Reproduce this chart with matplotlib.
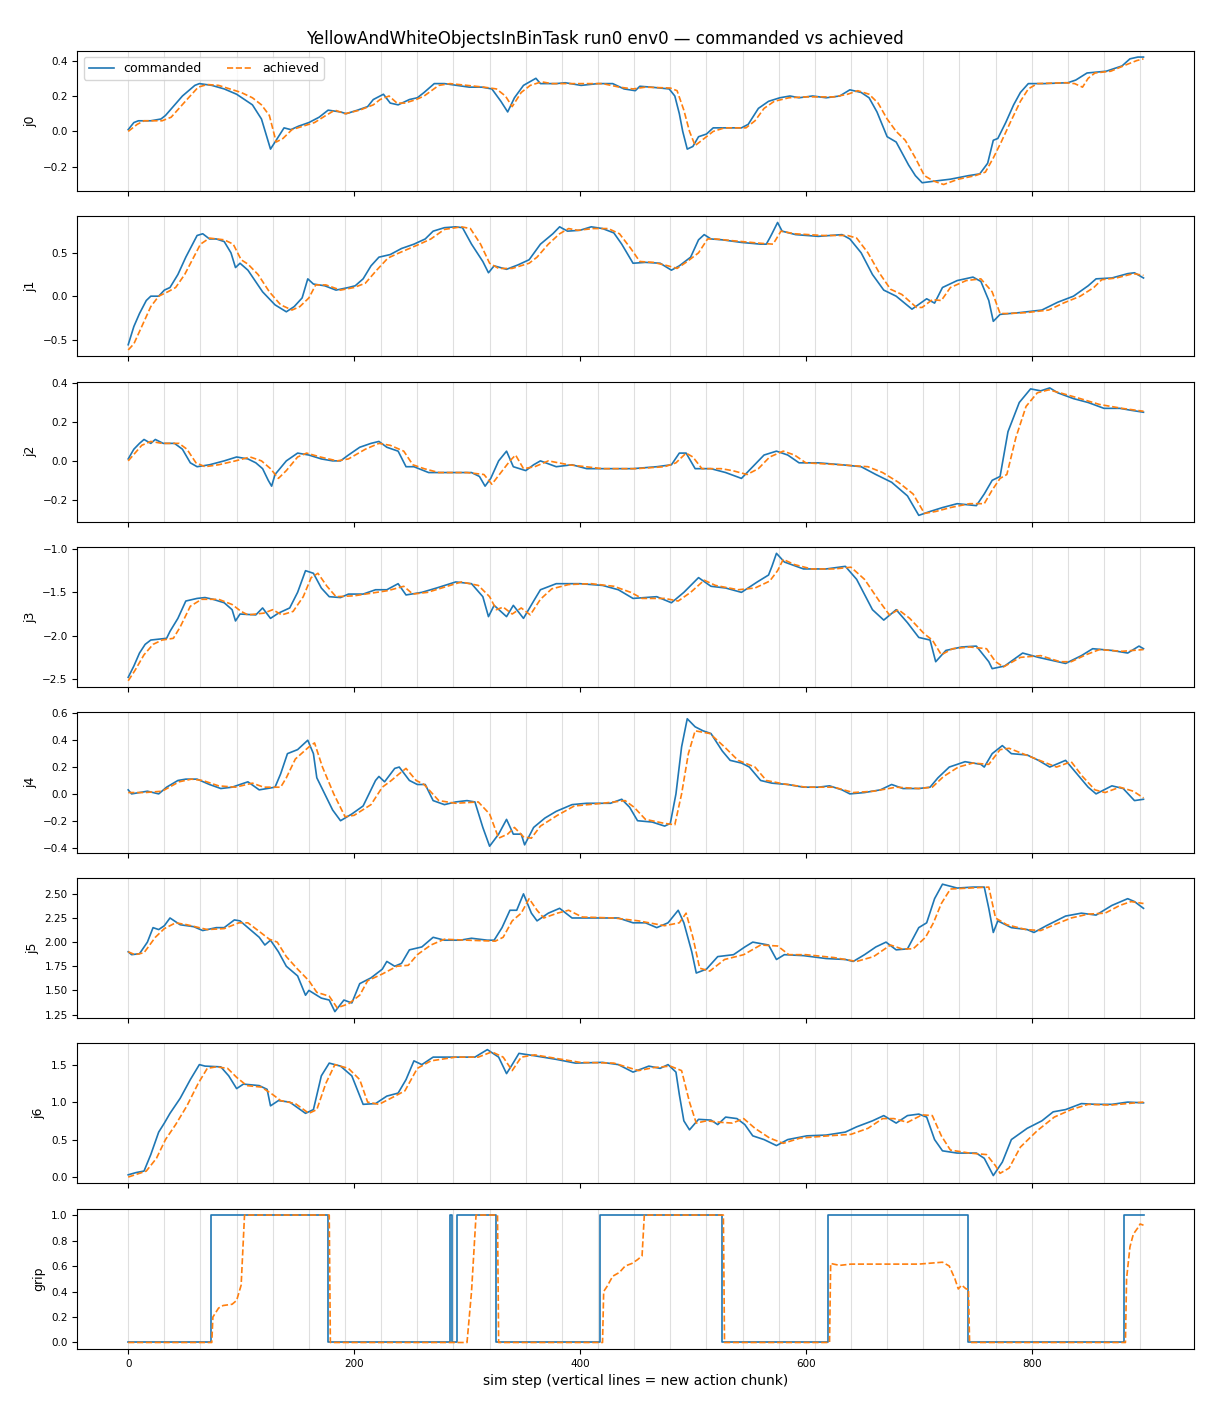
import numpy as np
import matplotlib
matplotlib.use("Agg")
import matplotlib.pyplot as plt

# ---------------------------------------------
# commanded vs achieved joint positions
# each series is a list of (sim step, value)
# ---------------------------------------------

joint_names = ['j0', 'j1', 'j2', 'j3', 'j4', 'j5', 'j6', 'grip']
chunk_starts = list(range(0, 900, 32))  # a new action chunk every 32 steps

j0_cmd = [(0, 0.01), (5, 0.05), (9, 0.06), (20, 0.06), (29, 0.07), (33, 0.09), (48, 0.2), (59, 0.26),
          (63, 0.27), (74, 0.26), (85, 0.24), (96, 0.21), (103, 0.18), (110, 0.15), (118, 0.07), (126, -0.1),
          (131, -0.05), (138, 0.02), (144, 0.01), (151, 0.03), (160, 0.05), (169, 0.08), (177, 0.12),
          (188, 0.11), (193, 0.10), (203, 0.12), (212, 0.14), (217, 0.18), (226, 0.21), (232, 0.16),
          (239, 0.15), (249, 0.18), (256, 0.19), (262, 0.22), (271, 0.27), (280, 0.27), (291, 0.26),
          (302, 0.25), (313, 0.25), (322, 0.24), (330, 0.17), (336, 0.11), (342, 0.19), (350, 0.26),
          (361, 0.30), (365, 0.27), (379, 0.27), (387, 0.275), (401, 0.26), (416, 0.27), (429, 0.27),
          (439, 0.24), (449, 0.23), (453, 0.255), (463, 0.25), (479, 0.24), (484, 0.20), (488, 0.1),
          (491, 0.0), (495, -0.1), (500, -0.085), (505, -0.03), (512, -0.015), (518, 0.02), (525, 0.02),
          (543, 0.02), (549, 0.04), (558, 0.13), (567, 0.17), (577, 0.19), (586, 0.2), (594, 0.19),
          (606, 0.2), (618, 0.19), (630, 0.2), (639, 0.235), (649, 0.22), (656, 0.19), (663, 0.11),
          (672, -0.03), (680, -0.06), (691, -0.19), (697, -0.25), (703, -0.29), (715, -0.28), (728, -0.27),
          (744, -0.25), (754, -0.24), (761, -0.18), (766, -0.05), (770, -0.04), (777, 0.05), (784, 0.15),
          (790, 0.22), (797, 0.27), (811, 0.27), (832, 0.275), (839, 0.29), (849, 0.33), (866, 0.34),
          (880, 0.37), (887, 0.41), (894, 0.42), (899, 0.42)]
j0_ach = [(0, 0.0), (8, 0.04), (14, 0.06), (30, 0.06), (38, 0.08), (52, 0.18), (62, 0.25), (70, 0.265),
          (80, 0.26), (90, 0.24), (100, 0.22), (110, 0.19), (118, 0.15), (125, 0.09), (131, -0.06),
          (137, -0.04), (145, 0.01), (155, 0.03), (165, 0.05), (175, 0.09), (183, 0.12), (192, 0.10),
          (205, 0.12), (217, 0.15), (223, 0.18), (231, 0.20), (238, 0.16), (245, 0.16), (255, 0.18),
          (262, 0.20), (275, 0.26), (285, 0.27), (300, 0.26), (315, 0.25), (326, 0.24), (334, 0.20),
          (340, 0.14), (348, 0.22), (356, 0.26), (366, 0.28), (375, 0.27), (395, 0.27), (420, 0.27),
          (435, 0.25), (447, 0.24), (458, 0.25), (480, 0.245), (486, 0.23), (492, 0.12), (497, 0.0),
          (502, -0.08), (508, -0.05), (518, 0.0), (528, 0.02), (547, 0.02), (555, 0.06), (563, 0.13),
          (572, 0.17), (585, 0.19), (600, 0.195), (625, 0.195), (637, 0.21), (646, 0.23), (656, 0.21),
          (664, 0.16), (672, 0.07), (680, 0.0), (688, -0.05), (697, -0.15), (705, -0.25), (713, -0.28),
          (722, -0.30), (735, -0.27), (750, -0.25), (759, -0.23), (766, -0.15), (773, -0.06), (781, 0.05),
          (790, 0.17), (797, 0.24), (805, 0.27), (830, 0.275), (838, 0.27), (845, 0.25), (850, 0.30),
          (856, 0.33), (870, 0.34), (885, 0.38), (893, 0.40), (899, 0.41)]

j1_cmd = [(0, -0.56), (5, -0.35), (10, -0.2), (16, -0.05), (20, 0.0), (27, 0.0), (32, 0.07), (37, 0.1),
          (44, 0.25), (51, 0.45), (57, 0.6), (61, 0.7), (66, 0.72), (72, 0.66), (78, 0.66), (85, 0.63),
          (91, 0.5), (95, 0.33), (99, 0.38), (106, 0.3), (119, 0.05), (130, -0.1), (140, -0.18),
          (147, -0.12), (154, -0.02), (159, 0.2), (164, 0.14), (174, 0.12), (184, 0.07), (195, 0.1),
          (201, 0.12), (208, 0.2), (215, 0.35), (222, 0.45), (232, 0.48), (242, 0.55), (253, 0.6),
          (263, 0.66), (270, 0.75), (280, 0.79), (290, 0.8), (296, 0.79), (304, 0.6), (314, 0.4),
          (319, 0.27), (324, 0.35), (335, 0.31), (345, 0.36), (355, 0.42), (365, 0.6), (376, 0.72),
          (382, 0.8), (389, 0.75), (400, 0.76), (410, 0.8), (420, 0.78), (430, 0.73), (437, 0.6),
          (447, 0.38), (458, 0.39), (471, 0.38), (481, 0.3), (488, 0.35), (498, 0.45), (505, 0.65),
          (510, 0.71), (516, 0.66), (526, 0.65), (543, 0.62), (560, 0.6), (565, 0.6), (568, 0.67),
          (570, 0.72), (575, 0.85), (579, 0.75), (591, 0.71), (611, 0.69), (632, 0.71), (639, 0.66),
          (649, 0.5), (659, 0.25), (669, 0.07), (680, 0.0), (694, -0.15), (707, -0.03), (714, -0.08),
          (721, 0.1), (734, 0.18), (748, 0.22), (755, 0.17), (762, -0.05), (766, -0.29), (772, -0.21),
          (789, -0.19), (809, -0.16), (823, -0.07), (837, 0.0), (850, 0.12), (857, 0.2), (871, 0.21),
          (885, 0.26), (891, 0.27), (899, 0.21)]
j1_ach = [(0, -0.62), (5, -0.55), (12, -0.35), (20, -0.12), (27, 0.0), (35, 0.05), (42, 0.1), (50, 0.25),
          (58, 0.45), (64, 0.6), (72, 0.67), (85, 0.65), (93, 0.6), (100, 0.42), (106, 0.37), (115, 0.25),
          (125, 0.05), (135, -0.1), (145, -0.16), (152, -0.12), (160, -0.02), (166, 0.13), (175, 0.13),
          (188, 0.07), (200, 0.1), (210, 0.15), (220, 0.3), (230, 0.44), (240, 0.5), (258, 0.6),
          (268, 0.66), (280, 0.77), (295, 0.8), (303, 0.78), (312, 0.6), (320, 0.38), (328, 0.32),
          (340, 0.32), (355, 0.38), (362, 0.45), (372, 0.6), (382, 0.72), (390, 0.78), (398, 0.76),
          (412, 0.78), (425, 0.78), (435, 0.72), (445, 0.55), (453, 0.4), (465, 0.39), (478, 0.35),
          (486, 0.32), (495, 0.4), (505, 0.5), (513, 0.66), (520, 0.66), (535, 0.64), (560, 0.61),
          (571, 0.6), (578, 0.75), (590, 0.72), (615, 0.7), (637, 0.7), (645, 0.67), (655, 0.5),
          (665, 0.27), (675, 0.08), (685, 0.02), (698, -0.13), (703, -0.13), (712, -0.04), (720, -0.05),
          (728, 0.1), (742, 0.18), (755, 0.2), (765, 0.05), (772, -0.2), (780, -0.2), (795, -0.19),
          (815, -0.16), (828, -0.08), (843, 0.0), (855, 0.1), (862, 0.19), (875, 0.21), (890, 0.26),
          (899, 0.24)]

j2_cmd = [(0, 0.01), (5, 0.06), (10, 0.09), (14, 0.11), (20, 0.09), (24, 0.11), (31, 0.09), (41, 0.09),
          (48, 0.06), (55, -0.01), (61, -0.03), (72, -0.02), (85, 0.0), (96, 0.02), (106, 0.01),
          (113, -0.01), (119, -0.04), (124, -0.1), (127, -0.13), (130, -0.07), (140, 0.0), (150, 0.04),
          (160, 0.03), (171, 0.01), (181, 0.0), (188, 0.0), (195, 0.03), (205, 0.07), (215, 0.09),
          (222, 0.1), (229, 0.07), (239, 0.05), (246, -0.03), (253, -0.03), (266, -0.06), (283, -0.06),
          (304, -0.06), (311, -0.08), (316, -0.13), (321, -0.09), (328, 0.0), (335, 0.05), (341, -0.03),
          (352, -0.05), (359, -0.02), (365, 0.0), (379, -0.03), (393, -0.02), (406, -0.04), (427, -0.04),
          (447, -0.04), (468, -0.03), (481, -0.02), (488, 0.04), (494, 0.04), (502, -0.04), (516, -0.04),
          (529, -0.06), (543, -0.09), (553, -0.03), (563, 0.03), (574, 0.05), (584, 0.03), (594, -0.01),
          (611, -0.01), (632, -0.02), (649, -0.03), (662, -0.07), (676, -0.11), (690, -0.18), (700, -0.28),
          (710, -0.26), (721, -0.24), (734, -0.22), (751, -0.23), (758, -0.17), (765, -0.1), (772, -0.08),
          (779, 0.15), (789, 0.3), (799, 0.37), (808, 0.36), (816, 0.375), (823, 0.35), (837, 0.32),
          (850, 0.3), (864, 0.27), (878, 0.27), (888, 0.26), (899, 0.25)]
j2_ach = [(0, 0.0), (6, 0.04), (12, 0.08), (20, 0.1), (30, 0.09), (45, 0.09), (52, 0.06), (60, -0.01),
          (68, -0.03), (80, -0.02), (95, 0.0), (108, 0.02), (118, 0.0), (126, -0.04), (133, -0.09),
          (140, -0.05), (150, 0.02), (158, 0.04), (170, 0.02), (185, 0.0), (195, 0.01), (210, 0.06),
          (222, 0.09), (232, 0.08), (244, 0.05), (252, -0.02), (262, -0.04), (275, -0.06), (300, -0.06),
          (315, -0.07), (322, -0.12), (330, -0.06), (338, 0.0), (343, 0.03), (350, -0.04), (360, -0.03),
          (372, 0.0), (390, -0.02), (420, -0.04), (450, -0.04), (475, -0.03), (485, -0.01), (494, 0.04),
          (500, 0.02), (508, -0.04), (525, -0.04), (535, -0.05), (548, -0.07), (558, -0.04), (568, 0.02),
          (580, 0.05), (590, 0.03), (600, -0.01), (630, -0.02), (655, -0.03), (668, -0.06), (682, -0.11),
          (695, -0.17), (705, -0.27), (715, -0.26), (728, -0.24), (745, -0.22), (758, -0.22), (765, -0.15),
          (772, -0.09), (778, -0.07), (786, 0.12), (795, 0.28), (805, 0.35), (815, 0.365), (825, 0.35),
          (843, 0.32), (860, 0.29), (880, 0.27), (899, 0.255)]

j3_cmd = [(0, -2.48), (5, -2.35), (10, -2.2), (15, -2.1), (20, -2.05), (34, -2.03), (37, -1.95), (44, -1.8),
          (51, -1.6), (61, -1.57), (68, -1.56), (75, -1.58), (85, -1.62), (92, -1.7), (95, -1.83),
          (99, -1.75), (113, -1.76), (119, -1.68), (126, -1.8), (133, -1.74), (143, -1.68), (150, -1.5),
          (157, -1.25), (164, -1.28), (171, -1.45), (178, -1.55), (188, -1.56), (195, -1.52), (208, -1.52),
          (219, -1.47), (229, -1.47), (239, -1.4), (246, -1.53), (260, -1.5), (273, -1.45), (290, -1.38),
          (304, -1.4), (314, -1.55), (319, -1.78), (324, -1.65), (335, -1.78), (341, -1.65), (350, -1.8),
          (359, -1.6), (365, -1.47), (379, -1.4), (400, -1.4), (420, -1.42), (434, -1.47), (447, -1.57),
          (468, -1.55), (481, -1.62), (492, -1.5), (505, -1.33), (516, -1.43), (529, -1.45), (543, -1.5),
          (557, -1.38), (567, -1.3), (570, -1.2), (574, -1.05), (581, -1.15), (598, -1.23), (618, -1.23),
          (635, -1.2), (645, -1.35), (659, -1.7), (669, -1.82), (680, -1.7), (690, -1.85), (700, -2.02),
          (710, -2.05), (715, -2.3), (724, -2.17), (738, -2.13), (751, -2.12), (762, -2.3), (765, -2.38),
          (776, -2.35), (792, -2.2), (806, -2.25), (830, -2.32), (844, -2.23), (854, -2.15), (871, -2.17),
          (885, -2.2), (895, -2.12), (899, -2.15)]
j3_ach = [(0, -2.52), (6, -2.4), (14, -2.22), (22, -2.1), (30, -2.05), (40, -2.03), (46, -1.9), (55, -1.66),
          (65, -1.58), (80, -1.58), (92, -1.64), (100, -1.72), (106, -1.76), (120, -1.74), (128, -1.7),
          (136, -1.76), (146, -1.72), (155, -1.55), (162, -1.33), (168, -1.28), (176, -1.43), (184, -1.55),
          (200, -1.54), (215, -1.51), (230, -1.48), (244, -1.43), (252, -1.52), (265, -1.5), (280, -1.44),
          (295, -1.38), (310, -1.42), (320, -1.55), (326, -1.7), (332, -1.67), (340, -1.75), (348, -1.68),
          (356, -1.76), (365, -1.58), (375, -1.46), (390, -1.41), (410, -1.4), (430, -1.43), (445, -1.5),
          (455, -1.57), (475, -1.57), (487, -1.6), (498, -1.5), (510, -1.36), (520, -1.42), (540, -1.47),
          (555, -1.45), (568, -1.37), (575, -1.25), (580, -1.12), (590, -1.18), (605, -1.23), (625, -1.23),
          (640, -1.21), (652, -1.35), (665, -1.6), (674, -1.76), (682, -1.7), (692, -1.8), (705, -1.98),
          (712, -2.05), (720, -2.22), (730, -2.15), (745, -2.13), (760, -2.15), (768, -2.3), (775, -2.36),
          (790, -2.25), (808, -2.23), (825, -2.3), (835, -2.3), (848, -2.22), (860, -2.16), (880, -2.18),
          (899, -2.16)]

j4_cmd = [(0, 0.03), (3, 0.0), (17, 0.02), (27, 0.0), (34, 0.05), (44, 0.1), (51, 0.11), (61, 0.11),
          (72, 0.07), (82, 0.04), (92, 0.05), (106, 0.09), (116, 0.03), (130, 0.05), (135, 0.15),
          (141, 0.3), (150, 0.33), (159, 0.4), (164, 0.3), (167, 0.12), (174, 0.0), (181, -0.12),
          (188, -0.2), (198, -0.15), (208, -0.09), (219, 0.1), (222, 0.13), (227, 0.09), (236, 0.19),
          (240, 0.2), (249, 0.1), (256, 0.07), (263, 0.07), (270, -0.05), (280, -0.08), (290, -0.06),
          (300, -0.05), (307, -0.06), (314, -0.25), (320, -0.39), (328, -0.3), (335, -0.19), (341, -0.3),
          (348, -0.3), (351, -0.38), (359, -0.25), (369, -0.18), (379, -0.13), (393, -0.08), (406, -0.07),
          (427, -0.07), (437, -0.04), (444, -0.1), (451, -0.2), (464, -0.21), (475, -0.24), (480, -0.22),
          (485, 0.0), (490, 0.35), (495, 0.56), (502, 0.5), (509, 0.47), (516, 0.45), (526, 0.32),
          (533, 0.25), (543, 0.23), (550, 0.2), (560, 0.1), (570, 0.08), (584, 0.07), (598, 0.05),
          (611, 0.05), (621, 0.06), (632, 0.03), (639, 0.0), (652, 0.01), (666, 0.03), (676, 0.07),
          (686, 0.04), (700, 0.04), (710, 0.05), (717, 0.12), (727, 0.2), (741, 0.24), (755, 0.22),
          (758, 0.2), (765, 0.3), (774, 0.36), (782, 0.3), (796, 0.29), (806, 0.25), (816, 0.2),
          (830, 0.25), (840, 0.15), (850, 0.05), (857, 0.0), (871, 0.06), (881, 0.04), (891, -0.05),
          (899, -0.04)]
j4_ach = [(0, 0.01), (15, 0.01), (30, 0.02), (45, 0.09), (56, 0.11), (66, 0.1), (80, 0.06), (95, 0.05),
          (110, 0.08), (120, 0.05), (135, 0.05), (140, 0.12), (148, 0.26), (160, 0.35), (165, 0.38),
          (172, 0.2), (182, 0.0), (192, -0.17), (200, -0.16), (215, -0.08), (225, 0.05), (233, 0.1),
          (240, 0.15), (246, 0.19), (255, 0.1), (262, 0.07), (275, -0.05), (290, -0.07), (310, -0.06),
          (320, -0.15), (328, -0.33), (336, -0.3), (342, -0.25), (350, -0.32), (357, -0.33), (365, -0.24),
          (380, -0.16), (395, -0.09), (420, -0.07), (440, -0.05), (448, -0.1), (458, -0.19), (475, -0.22),
          (484, -0.23), (490, 0.0), (496, 0.3), (502, 0.47), (515, 0.45), (528, 0.35), (540, 0.25),
          (555, 0.2), (565, 0.1), (580, 0.075), (600, 0.05), (625, 0.05), (642, 0.01), (660, 0.02),
          (680, 0.05), (700, 0.04), (712, 0.05), (722, 0.13), (735, 0.2), (748, 0.23), (762, 0.22),
          (772, 0.33), (780, 0.34), (795, 0.29), (810, 0.24), (822, 0.2), (835, 0.24), (845, 0.13),
          (856, 0.03), (865, 0.01), (878, 0.05), (890, 0.02), (899, -0.03)]

j5_cmd = [(0, 1.9), (3, 1.87), (10, 1.88), (17, 2.0), (22, 2.15), (27, 2.13), (32, 2.17), (37, 2.25),
          (46, 2.18), (58, 2.16), (66, 2.12), (78, 2.15), (85, 2.15), (94, 2.23), (99, 2.22), (106, 2.15),
          (116, 2.05), (121, 1.97), (126, 2.02), (133, 1.9), (140, 1.75), (150, 1.65), (157, 1.45),
          (160, 1.5), (171, 1.42), (178, 1.4), (183, 1.28), (191, 1.4), (198, 1.37), (205, 1.57),
          (215, 1.63), (225, 1.72), (229, 1.8), (236, 1.75), (242, 1.78), (249, 1.92), (260, 1.95),
          (270, 2.05), (280, 2.02), (294, 2.02), (304, 2.04), (318, 2.02), (324, 2.02), (331, 2.15),
          (338, 2.33), (344, 2.33), (350, 2.5), (357, 2.3), (362, 2.22), (372, 2.3), (382, 2.35),
          (393, 2.25), (413, 2.25), (434, 2.25), (447, 2.2), (458, 2.2), (468, 2.15), (478, 2.2),
          (487, 2.33), (492, 2.2), (499, 1.9), (503, 1.68), (512, 1.72), (522, 1.85), (536, 1.87),
          (546, 1.95), (553, 2.0), (567, 1.97), (574, 1.82), (581, 1.87), (598, 1.86), (618, 1.83),
          (635, 1.82), (642, 1.8), (652, 1.87), (662, 1.95), (671, 2.0), (680, 1.92), (690, 1.93),
          (700, 2.15), (707, 2.2), (714, 2.45), (721, 2.6), (734, 2.56), (748, 2.57), (758, 2.57),
          (762, 2.35), (766, 2.1), (770, 2.22), (782, 2.15), (796, 2.13), (802, 2.1), (813, 2.17),
          (830, 2.27), (844, 2.3), (857, 2.28), (871, 2.38), (885, 2.45), (891, 2.42), (899, 2.35)]
j5_ach = [(0, 1.9), (6, 1.87), (14, 1.89), (24, 2.05), (32, 2.14), (42, 2.2), (52, 2.18), (70, 2.13),
          (85, 2.14), (98, 2.2), (106, 2.2), (115, 2.12), (125, 2.03), (132, 2.0), (140, 1.85), (150, 1.72),
          (160, 1.6), (167, 1.48), (178, 1.44), (185, 1.32), (195, 1.36), (205, 1.45), (212, 1.6),
          (225, 1.67), (238, 1.75), (248, 1.76), (256, 1.87), (268, 1.97), (280, 2.03), (300, 2.02),
          (325, 2.01), (332, 2.05), (340, 2.22), (348, 2.3), (355, 2.45), (362, 2.33), (368, 2.25),
          (380, 2.3), (390, 2.33), (402, 2.26), (430, 2.25), (452, 2.22), (475, 2.17), (488, 2.2),
          (494, 2.3), (500, 2.05), (506, 1.73), (515, 1.7), (528, 1.82), (545, 1.87), (560, 1.97),
          (575, 1.96), (585, 1.87), (600, 1.87), (625, 1.84), (645, 1.8), (660, 1.85), (675, 1.97),
          (685, 1.93), (695, 1.93), (706, 2.05), (713, 2.2), (720, 2.4), (728, 2.55), (745, 2.56),
          (762, 2.57), (768, 2.25), (778, 2.18), (795, 2.13), (808, 2.12), (820, 2.18), (835, 2.25),
          (850, 2.29), (865, 2.3), (878, 2.38), (888, 2.42), (899, 2.4)]

j6_cmd = [(0, 0.03), (7, 0.06), (14, 0.08), (20, 0.3), (27, 0.6), (32, 0.72), (37, 0.85), (46, 1.05),
          (55, 1.3), (63, 1.5), (68, 1.48), (82, 1.47), (89, 1.35), (96, 1.18), (102, 1.24), (116, 1.22),
          (123, 1.17), (126, 0.95), (133, 1.02), (143, 1.0), (157, 0.85), (164, 0.9), (171, 1.35),
          (178, 1.52), (188, 1.48), (198, 1.35), (208, 0.97), (219, 0.98), (229, 1.08), (239, 1.12),
          (246, 1.3), (253, 1.55), (260, 1.5), (270, 1.6), (290, 1.6), (307, 1.6), (318, 1.7), (328, 1.6),
          (335, 1.38), (340, 1.5), (346, 1.65), (359, 1.62), (379, 1.57), (396, 1.52), (420, 1.53),
          (434, 1.5), (447, 1.4), (461, 1.48), (471, 1.45), (478, 1.5), (485, 1.4), (488, 1.1),
          (492, 0.75), (497, 0.63), (505, 0.77), (516, 0.76), (522, 0.7), (529, 0.8), (539, 0.78),
          (546, 0.7), (553, 0.55), (563, 0.5), (574, 0.42), (584, 0.5), (601, 0.55), (618, 0.56),
          (635, 0.6), (645, 0.67), (659, 0.75), (669, 0.82), (680, 0.72), (690, 0.82), (700, 0.84),
          (707, 0.8), (714, 0.5), (721, 0.35), (734, 0.32), (751, 0.32), (758, 0.25), (766, 0.02),
          (774, 0.2), (782, 0.5), (796, 0.65), (809, 0.75), (819, 0.87), (830, 0.9), (844, 0.98),
          (857, 0.97), (871, 0.97), (885, 1.0), (899, 0.99)]
j6_ach = [(0, 0.0), (8, 0.04), (16, 0.08), (25, 0.25), (33, 0.5), (42, 0.7), (52, 0.95), (62, 1.25),
          (70, 1.45), (78, 1.47), (88, 1.45), (96, 1.33), (105, 1.22), (118, 1.2), (128, 1.1), (135, 1.02),
          (148, 0.98), (160, 0.85), (167, 0.9), (175, 1.25), (183, 1.5), (195, 1.45), (205, 1.3),
          (212, 1.0), (222, 0.97), (235, 1.07), (245, 1.15), (256, 1.45), (268, 1.55), (290, 1.6),
          (310, 1.6), (322, 1.67), (332, 1.6), (340, 1.42), (348, 1.6), (360, 1.63), (380, 1.58),
          (400, 1.53), (430, 1.52), (452, 1.42), (465, 1.46), (480, 1.48), (490, 1.42), (497, 1.0),
          (503, 0.72), (512, 0.75), (525, 0.73), (535, 0.72), (545, 0.78), (555, 0.65), (568, 0.52),
          (580, 0.45), (595, 0.52), (620, 0.55), (640, 0.57), (655, 0.65), (668, 0.78), (678, 0.78),
          (690, 0.73), (703, 0.83), (712, 0.82), (720, 0.55), (728, 0.36), (745, 0.32), (760, 0.3),
          (768, 0.15), (772, 0.05), (780, 0.12), (790, 0.4), (805, 0.62), (820, 0.8), (835, 0.9),
          (850, 0.97), (870, 0.96), (899, 1.0)]

# gripper: commanded is open/closed, drawn as steps
grip_cmd = [(0, 0), (73, 1), (177, 0), (285, 1), (287, 0), (291, 1), (326, 0), (418, 1),
            (526, 0), (620, 1), (744, 0), (882, 1), (899, 1)]
grip_ach = [(0, 0.0), (74, 0.0), (75, 0.2), (80, 0.27), (84, 0.29), (92, 0.3), (96, 0.33), (100, 0.45),
            (103, 1.0), (178, 1.0), (179, 0.0), (300, 0.0), (304, 0.4), (308, 1.0), (327, 1.0),
            (328, 0.0), (420, 0.0), (421, 0.4), (424, 0.44), (429, 0.52), (435, 0.55), (440, 0.6),
            (446, 0.62), (451, 0.65), (455, 0.68), (457, 1.0), (527, 1.0), (528, 0.0), (621, 0.0),
            (622, 0.62), (630, 0.605), (640, 0.615), (680, 0.615), (700, 0.615), (721, 0.63), (727, 0.6),
            (732, 0.5), (735, 0.42), (738, 0.45), (742, 0.42), (744, 0.42), (745, 0.0), (883, 0.0),
            (884, 0.5), (887, 0.75), (890, 0.85), (894, 0.9), (896, 0.93), (899, 0.92)]

commanded = [j0_cmd, j1_cmd, j2_cmd, j3_cmd, j4_cmd, j5_cmd, j6_cmd, grip_cmd]
achieved = [j0_ach, j1_ach, j2_ach, j3_ach, j4_ach, j5_ach, j6_ach, grip_ach]

# 📊 Plotting
fig, axes = plt.subplots(8, 1, figsize=(12.1, 14.08), sharex=True)
fig.subplots_adjust(left=0.064, right=0.987, top=0.964, bottom=0.042, hspace=0.18)

for i, ax in enumerate(axes):
    for c in chunk_starts:
        ax.axvline(c, color='gray', alpha=0.25, lw=0.8)
    cx, cy = np.array(commanded[i]).T
    hx, hy = np.array(achieved[i]).T
    if joint_names[i] == 'grip':
        ax.step(cx, cy, where='post', color='#1f77b4', lw=1.2, label='commanded')
    else:
        ax.plot(cx, cy, color='#1f77b4', lw=1.2, label='commanded')
    ax.plot(hx, hy, color='#ff7f0e', lw=1.2, ls='--', label='achieved')
    ax.set_ylabel(joint_names[i], fontsize=9)
    ax.tick_params(labelsize=7.5)

axes[0].legend(loc='upper left', ncol=2, fontsize=9)
axes[-1].set_xlabel('sim step (vertical lines = new action chunk)', fontsize=10)
fig.suptitle('YellowAndWhiteObjectsInBinTask run0 env0 — commanded vs achieved', fontsize=12, y=0.979)

plt.savefig('out.png', dpi=100)
